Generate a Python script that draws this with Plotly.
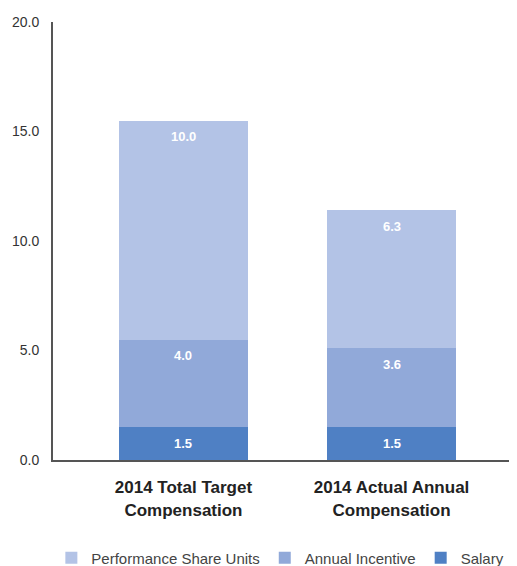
import plotly.graph_objects as go

categories = ["<b>2014 Total Target<br>Compensation</b>", "<b>2014 Actual Annual<br>Compensation</b>"]
salary = [1.5, 1.5]
annual_incentive = [4.0, 3.6]
psu = [10.0, 6.3]
tick_vals = [0, 5, 10, 15, 20]

series = [("Salary", salary), ("Annual Incentive", annual_incentive), ("Performance Share Units", psu)]
colors = {"Salary": "#4f80c4", "Annual Incentive": "#91a9d9", "Performance Share Units": "#b3c3e6"}

fig = go.Figure()
base = [0.0, 0.0]
for name, vals in series:
    fig.add_trace(go.Bar(
        x=[0, 1], y=vals, name=name,
        marker=dict(color=colors[name], line=dict(width=0)),
        width=0.62,
    ))
    for i, v in enumerate(vals):
        base[i] += v
        fig.add_annotation(
            x=i, y=base[i], text=f"<b>{v:.1f}</b>", showarrow=False,
            yanchor="middle", yshift=-16,
            font=dict(color="white", size=13, family="Liberation Sans"),
        )

fig.update_layout(
    barmode="stack",
    width=509, height=558,
    margin=dict(l=45, r=0, t=14, b=106, autoexpand=False),
    plot_bgcolor="white", paper_bgcolor="white",
    font=dict(family="Liberation Sans", color="#333333"),
    xaxis=dict(
        tickmode="array", tickvals=[0, 1], ticktext=categories,
        range=[-0.627, 1.603], showline=True, linecolor="#555555", linewidth=2,
        showgrid=False, ticks="outside", ticklen=11, tickcolor="rgba(0,0,0,0)",
        tickfont=dict(size=17, color="#222222"),
        zeroline=False, automargin=False,
    ),
    yaxis=dict(
        range=[0, 20], tickvals=tick_vals, tickformat=".1f",
        showline=True, linecolor="#555555", linewidth=2, showgrid=False,
        zeroline=False, ticks="outside", ticklen=9, tickcolor="rgba(0,0,0,0)",
        tickfont=dict(size=14, color="#333333"), automargin=False,
    ),
    legend=dict(
        orientation="h", traceorder="reversed", x=0.49, xanchor="center",
        y=-0.224, yanchor="middle", font=dict(size=15, color="#444444"),
    ),
    showlegend=True,
)

fig.write_html("out.html")
